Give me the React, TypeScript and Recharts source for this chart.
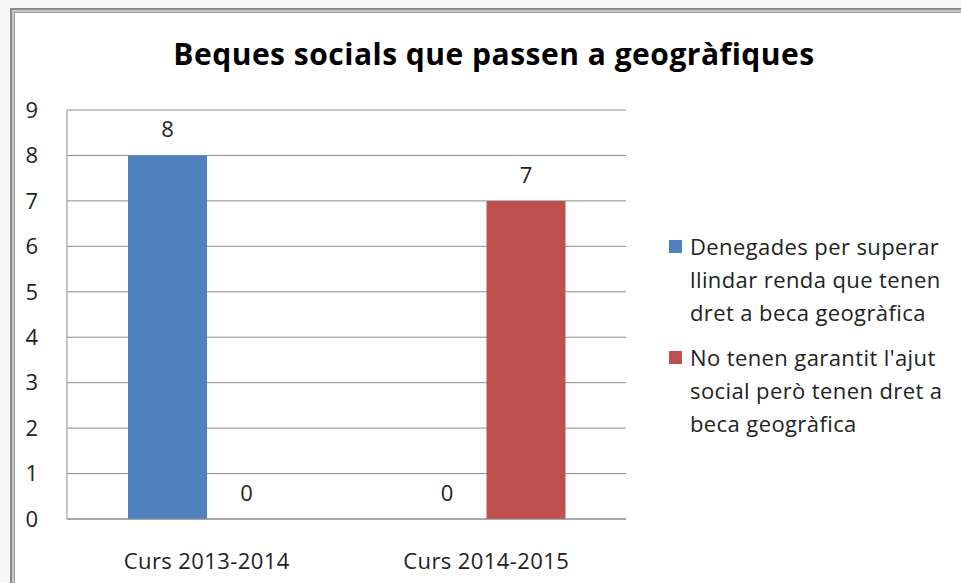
import React from 'react';
import { BarChart, Bar, XAxis, YAxis, CartesianGrid, LabelList } from 'recharts';

const categories = ['Curs 2013-2014', 'Curs 2014-2015'];
const deniedValues = [8, 0];
const noAidValues = [0, 7];
const yTicks = [0, 1, 2, 3, 4, 5, 6, 7, 8, 9];
const seriesNames = [
  'Denegades per superar llindar renda que tenen dret a beca geogràfica',
  "No tenen garantit l'ajut social però tenen dret a beca geogràfica",
];
const seriesLines = [
  ['Denegades per superar', 'llindar renda que tenen', 'dret a beca geogràfica'],
  ["No tenen garantit l'ajut", 'social però tenen dret a', 'beca geogràfica'],
];
const title = 'Beques socials que passen a geogràfiques';

const data = categories.map((c, i) => ({ name: c, a: deniedValues[i], b: noAidValues[i] }));

const FONT = '"Open Sans", sans-serif';
const colors = ['#4f81bd', '#c0504d'];
const labelStyle = { fontFamily: FONT, fontSize: 22, fill: '#222' };

export default function App() {
  return (
    <div style={{ position: 'fixed', left: 0, top: 0, width: 961, height: 583, background: '#f7f7f7', overflow: 'hidden' }}>
      <div
        style={{
          position: 'absolute',
          left: 10,
          top: 8,
          width: 1000,
          height: 700,
          borderLeft: '2px solid #8a8a8a',
          borderTop: '2px solid #8a8a8a',
          background: '#c8c8c8',
        }}
      >
        <div
          style={{
            position: 'absolute',
            left: 2,
            top: 2,
            right: 0,
            bottom: 0,
            background: '#ffffff',
            borderLeft: '1px solid #9a9a9a',
            borderTop: '1px solid #9a9a9a',
          }}
        />
      </div>
      <div
        style={{
          position: 'absolute',
          left: 0,
          top: 36,
          width: 988,
          textAlign: 'center',
          fontFamily: FONT,
          fontWeight: 'bold',
          fontSize: 30,
          letterSpacing: 0.5,
          lineHeight: '36px',
          color: '#000',
          whiteSpace: 'nowrap',
        }}
      >
        {title}
      </div>
      <div style={{ position: 'absolute', left: 0, top: 0 }}>
        <BarChart
          width={961}
          height={583}
          data={data}
          margin={{ top: 110, right: 335, bottom: 20, left: 0 }}
          barCategoryGap={61}
          barGap={0}
        >
          <CartesianGrid vertical={false} stroke="#8c8c8c" strokeWidth={1} />
          <XAxis
            dataKey="name"
            height={44}
            tickLine={false}
            axisLine={{ stroke: '#8c8c8c' }}
            tick={{ fontFamily: FONT, fontSize: 22, fill: '#222', letterSpacing: 0.4 }}
            tickMargin={28}
          />
          <YAxis
            width={67}
            domain={[0, 9]}
            ticks={yTicks}
            interval={0}
            tickLine={false}
            axisLine={{ stroke: '#8c8c8c' }}
            tick={{ fontFamily: FONT, fontSize: 22, fill: '#222' }}
            tickMargin={23}
          />
          <Bar dataKey="a" name={seriesNames[0]} fill={colors[0]} minPointSize={0.001} isAnimationActive={false}>
            <LabelList dataKey="a" position="top" offset={18} style={labelStyle} />
          </Bar>
          <Bar dataKey="b" name={seriesNames[1]} fill={colors[1]} minPointSize={0.001} isAnimationActive={false}>
            <LabelList dataKey="b" position="top" offset={18} style={labelStyle} />
          </Bar>
        </BarChart>
      </div>
      <div style={{ position: 'absolute', left: 669, top: 230, fontFamily: FONT, fontSize: 22, letterSpacing: 0.4, color: '#222' }}>
        {seriesLines.map((lines, i) => (
          <div key={i} style={{ display: 'flex', marginBottom: i === 0 ? 12 : 0 }}>
            <div style={{ width: 13, height: 13, background: colors[i], marginTop: 10, marginRight: 8, flexShrink: 0 }} />
            <div style={{ lineHeight: '33px' }}>
              {lines.map((l, j) => (
                <div key={j} style={{ whiteSpace: 'nowrap' }}>{l}</div>
              ))}
            </div>
          </div>
        ))}
      </div>
    </div>
  );
}
